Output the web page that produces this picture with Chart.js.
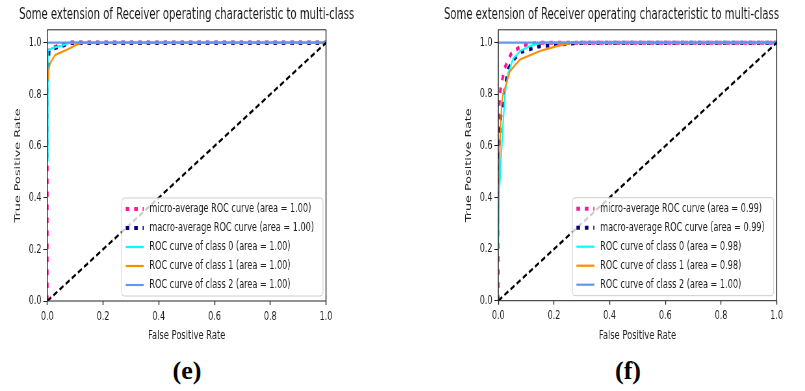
<!DOCTYPE html>
<html>
<head>
<meta charset="utf-8">
<script src="https://cdn.jsdelivr.net/npm/chart.js@4.4.0/dist/chart.umd.min.js"></script>
<style>
  body { margin: 0; background: #fff; width: 805px; height: 391px; overflow: hidden; position: relative; }
  canvas { position: absolute; top: 0; transform-origin: 0 0; }
  .tag { position: absolute; top: 371px; transform: translate(-50%, -50%); font: bold 26px "Liberation Serif", serif; color: #000; line-height: 1; }
</style>
</head>
<body>
<canvas id="roc-e"></canvas>
<canvas id="roc-f"></canvas>
<div class="tag" style="left:187px">(e)</div>
<div class="tag" style="left:628px">(f)</div>
<script>
const chartTitle = 'Some extension of Receiver operating characteristic to multi-class';
const xTicks = [0, 0.2, 0.4, 0.6, 0.8, 1.0];
const yTicks = [0, 0.2, 0.4, 0.6, 0.8, 1.0];
const curveNames = ['micro-average ROC curve', 'macro-average ROC curve', 'ROC curve of class 0', 'ROC curve of class 1', 'ROC curve of class 2'];
const areasE = ['1.00', '1.00', '1.00', '1.00', '1.00'];
const areasF = ['0.99', '0.99', '0.98', '0.98', '1.00'];

// panel (e)
const microFprE = [0, 0, 0.01, 0.03, 0.06, 0.08, 1];
const microTprE = [0, 0.96, 0.975, 0.985, 0.995, 1, 1];
const macroFprE = [0, 0.007, 0.03, 0.06, 0.08, 1];
const macroTprE = [0.85, 0.97, 0.98, 0.99, 1, 1];
const class0FprE = [0.002, 0.002, 0.02, 0.057, 0.08, 1];
const class0TprE = [0.54, 0.97, 0.98, 0.99, 1, 1];
const class1FprE = [0.003, 0.004, 0.01, 0.028, 0.07, 0.105, 0.125, 1];
const class1TprE = [0.86, 0.889, 0.92, 0.953, 0.973, 0.992, 1, 1];
const class2FprE = [0, 1];
const class2TprE = [1, 1];

// panel (f)
const microFprF = [0, 0, 0.008, 0.022, 0.045, 0.07, 0.1, 0.15, 1];
const microTprF = [0, 0.72, 0.82, 0.9, 0.955, 0.978, 0.993, 1, 1];
const macroFprF = [0, 0.01, 0.018, 0.036, 0.06, 0.084, 0.143, 0.19, 0.3, 1];
const macroTprF = [0.55, 0.72, 0.79, 0.9, 0.94, 0.965, 0.985, 0.99, 1, 1];
const class0FprF = [0, 0.004, 0.015, 0.024, 0.035, 0.053, 0.078, 0.114, 0.15, 1];
const class0TprF = [0.2, 0.43, 0.65, 0.8, 0.88, 0.937, 0.968, 0.987, 1, 1];
const class1FprF = [0.003, 0.006, 0.012, 0.017, 0.042, 0.078, 0.15, 0.21, 0.26, 0.28, 1];
const class1TprF = [0.45, 0.62, 0.76, 0.8, 0.89, 0.935, 0.968, 0.987, 0.998, 1, 1];
const class2FprF = [0, 1];
const class2TprF = [1, 1];

const chanceFpr = [0, 1];
const chanceTpr = [0, 1];

// the original figure is squeezed horizontally, so each canvas is drawn wide and scaled in x
const SX = 0.65;
const H = 350;
const FONT = '"DejaVu Sans", sans-serif';
const TEXT = '#222';

const lineStyles = [
  {color: 'deeppink', width: 4, dash: [5.5, 7.5]},
  {color: 'navy', width: 4, dash: [5.5, 7.5]},
  {color: 'aqua', width: 2.2, dash: []},
  {color: 'darkorange', width: 2.2, dash: []},
  {color: 'cornflowerblue', width: 2.2, dash: []},
];

const toPoints = (xs, ys) => xs.map((x, i) => ({x, y: ys[i]}));

const framePlugin = {
  id: 'frame',
  afterDatasetsDraw(chart) {
    const {ctx, chartArea: a} = chart;
    ctx.save();
    ctx.strokeStyle = '#222';
    ctx.lineWidth = 1;
    ctx.beginPath();
    ctx.moveTo(a.left, a.top); ctx.lineTo(a.right, a.top);
    ctx.moveTo(a.left, a.bottom); ctx.lineTo(a.right, a.bottom);
    ctx.stroke();
    ctx.lineWidth = 1.4;
    ctx.beginPath();
    ctx.moveTo(a.left, a.top); ctx.lineTo(a.left, a.bottom);
    ctx.moveTo(a.right, a.top); ctx.lineTo(a.right, a.bottom);
    ctx.stroke();
    ctx.restore();
  }
};

// title drawn by hand: in panel (f) it sits left of the plot centre
const plotTitle = {
  id: 'plotTitle',
  afterDraw(chart, args, opts) {
    const {ctx, chartArea: a} = chart;
    ctx.save();
    ctx.font = `15.5px ${FONT}`;
    ctx.fillStyle = '#1a1a1a';
    ctx.textAlign = 'center';
    ctx.textBaseline = 'middle';
    ctx.fillText(opts.text, (a.left + a.right) / 2 + opts.shift, 15);
    ctx.restore();
  }
};

const innerLegend = {
  id: 'innerLegend',
  afterDraw(chart) {
    const {ctx, chartArea: a} = chart;
    const items = chart.data.datasets.filter((d) => d.inLegend);
    ctx.save();
    ctx.font = `12.5px ${FONT}`;
    const textW = Math.max(...items.map((d) => ctx.measureText(d.label).width));
    const textX = 27.7 / SX, padR = 9 / SX, rowH = 19, firstRow = 11;
    const w = textX + textW + padR;
    const h = firstRow * 2 + rowH * (items.length - 1);
    const x0 = a.right - 3 / SX - w;
    const y0 = a.bottom - 5 - h;
    ctx.beginPath();
    ctx.roundRect(x0, y0, w, h, 4);
    ctx.fillStyle = 'rgba(255,255,255,0.8)';
    ctx.fill();
    ctx.strokeStyle = '#cccccc';
    ctx.lineWidth = 1;
    ctx.stroke();
    items.forEach((d, i) => {
      const y = y0 + firstRow + i * rowH;
      ctx.beginPath();
      ctx.setLineDash(d.borderDash || []);
      ctx.strokeStyle = d.borderColor;
      ctx.lineWidth = d.borderWidth;
      ctx.moveTo(x0 + 4 / SX, y);
      ctx.lineTo(x0 + 22 / SX, y);
      ctx.stroke();
      ctx.setLineDash([]);
      ctx.fillStyle = TEXT;
      ctx.textBaseline = 'middle';
      ctx.textAlign = 'left';
      ctx.fillText(d.label, x0 + textX, y);
    });
    ctx.restore();
  }
};

function buildPanel(id, cssLeft, cssRight, plotLeft, plotRight, plotBottom, titleShift, curves, areas) {
  const canvas = document.getElementById(id);
  const w = Math.round((cssRight - cssLeft) / SX);
  canvas.width = w;
  canvas.height = H;
  canvas.style.left = cssLeft + 'px';
  canvas.style.width = w + 'px';
  canvas.style.height = H + 'px';
  canvas.style.transform = `scaleX(${SX})`;
  const leftI = (plotLeft - cssLeft) / SX;
  const rightI = (plotRight - cssLeft) / SX;
  const yTitleX = (plotLeft - 29.3 - cssLeft) / SX;

  const datasets = curves.map((c, i) => ({
    label: `${curveNames[i]} (area = ${areas[i]})`,
    inLegend: true,
    data: toPoints(c[0], c[1]),
    borderColor: lineStyles[i].color,
    borderWidth: lineStyles[i].width,
    borderDash: lineStyles[i].dash,
    order: 10 - i,
  }));
  datasets.push({
    label: 'chance',
    data: toPoints(chanceFpr, chanceTpr),
    borderColor: '#000',
    borderWidth: 2.5,
    borderDash: [7, 4],
    order: 0,
  });

  return new Chart(canvas, {
    type: 'line',
    data: {datasets},
    options: {
      responsive: false,
      animation: false,
      devicePixelRatio: 1,
      parsing: false,
      elements: {
        point: {radius: 0},
        line: {tension: 0, borderCapStyle: 'butt', fill: false},
      },
      layout: {padding: {left: 0, right: w - rightI, top: 29.8, bottom: 0}},
      scales: {
        x: {
          type: 'linear',
          min: 0,
          max: 1,
          afterBuildTicks: (s) => { s.ticks = xTicks.map((v) => ({value: v})); },
          afterFit: (s) => { s.height = H - plotBottom; },
          ticks: {
            callback: (v) => v.toFixed(1),
            font: {family: FONT, size: 12.3},
            color: TEXT,
            padding: 4,
            maxRotation: 0,
            autoSkip: false,
          },
          grid: {drawOnChartArea: false, tickLength: 4, tickColor: '#222', tickWidth: 1.4},
          border: {display: false},
          title: {
            display: true,
            text: 'False Positive Rate',
            font: {family: FONT, size: 12.8},
            color: TEXT,
            padding: {top: 0, bottom: 7},
          },
        },
        y: {
          type: 'linear',
          min: 0,
          max: 1.05,
          afterBuildTicks: (s) => { s.ticks = yTicks.map((v) => ({value: v})); },
          afterFit: (s) => { s.width = leftI; },
          ticks: {
            callback: (v) => v.toFixed(1),
            font: {family: FONT, size: 12.3},
            color: TEXT,
            padding: 3,
            autoSkip: false,
          },
          grid: {drawOnChartArea: false, tickLength: 6, tickColor: '#222', tickWidth: 1},
          border: {display: false},
          title: {
            display: true,
            text: 'True Positive Rate',
            font: {family: FONT, size: 12.8},
            color: TEXT,
            padding: {top: yTitleX - 7.7, bottom: 0},
          },
        },
      },
      plugins: {
        legend: {display: false},
        tooltip: {enabled: false},
        title: {display: false},
        plotTitle: {text: chartTitle, shift: titleShift / SX},
      },
    },
    plugins: [framePlugin, plotTitle, innerLegend],
  });
}

buildPanel('roc-e', 0, 404, 47.3, 326, 301, 0, [
  [microFprE, microTprE],
  [macroFprE, macroTprE],
  [class0FprE, class0TprE],
  [class1FprE, class1TprE],
  [class2FprE, class2TprE],
], areasE);

buildPanel('roc-f', 430, 805, 498.3, 776.7, 300.7, -26, [
  [microFprF, microTprF],
  [macroFprF, macroTprF],
  [class0FprF, class0TprF],
  [class1FprF, class1TprF],
  [class2FprF, class2TprF],
], areasF);
</script>
</body>
</html>
